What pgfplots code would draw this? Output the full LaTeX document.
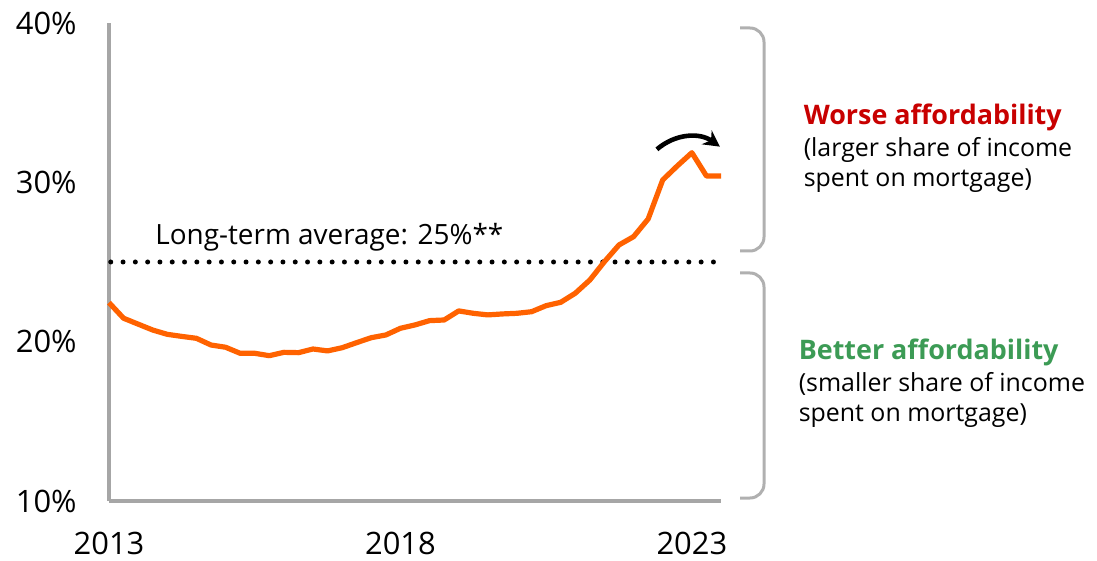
\documentclass[border=0pt]{standalone}
\usepackage{fontspec}
\setmainfont{Open Sans}
\usepackage{pgfplots}
\pgfplotsset{compat=1.18}
\usetikzlibrary{arrows.meta}
\definecolor{ingorange}{HTML}{FF6200}
\definecolor{axisgray}{HTML}{A6A6A6}
\definecolor{brgray}{HTML}{B0B0B0}
\definecolor{ingred}{HTML}{C80000}
\definecolor{inggreen}{HTML}{3C9B55}
\begin{document}
\begin{tikzpicture}
\begin{axis}[
  scale only axis, width=306bp, height=239bp,
  xmin=2013, xmax=2023.5, ymin=10, ymax=40,
  axis lines*=left,
  axis line style={axisgray, line width=1.8bp},
  xtick={2013,2018,2023}, ytick={10,20,30,40},
  major tick length=0pt,
  /pgf/number format/assume math mode=true,
  /pgf/number format/1000 sep={},
  yticklabel={\pgfmathprintnumber{\tick}\%},
  ticklabel style={font=\fontsize{15.5}{18}\selectfont},
  yticklabel style={anchor=east, inner sep=0pt, xshift=-16bp},
  xticklabel style={anchor=north, inner sep=0pt, yshift=-15.5bp},
  clip=false,
]
\coordinate (O) at (rel axis cs:0,0);
\addplot[black, line width=2.5bp, dash pattern=on 0pt off 6.15bp, line cap=round] coordinates {(2013.03,25) (2023.4,25)};
\addplot[ingorange, line width=2.6bp, line join=round] coordinates {
(2013.00,22.45) (2013.25,21.47) (2013.50,21.10) (2013.75,20.73)
(2014.00,20.46) (2014.25,20.33) (2014.50,20.21) (2014.75,19.79)
(2015.00,19.65) (2015.25,19.27) (2015.50,19.27) (2015.75,19.12)
(2016.00,19.33) (2016.25,19.31) (2016.50,19.54) (2016.75,19.42)
(2017.00,19.62) (2017.25,19.94) (2017.50,20.25) (2017.75,20.42)
(2018.00,20.84) (2018.25,21.05) (2018.50,21.32) (2018.75,21.36)
(2019.00,21.93) (2019.25,21.78) (2019.50,21.68) (2019.75,21.74)
(2020.00,21.78) (2020.25,21.88) (2020.50,22.26) (2020.75,22.47)
(2021.00,23.04) (2021.25,23.87) (2021.50,25.02) (2021.75,26.07)
(2022.00,26.59) (2022.25,27.70) (2022.50,30.15) (2022.75,31.03)
(2023.00,31.86) (2023.25,30.40) (2023.50,30.40)
};
\draw[black, line width=2.3bp, -{Stealth[length=8bp, width=8.5bp]}] (axis cs:2022.40,32.07) to[bend left=38] (axis cs:2023.48,32.24);
\end{axis}
\path (O) ++(-54.5bp,-30bp) rectangle ++(548.5bp,280.5bp);
\node[anchor=base west, inner sep=0pt, font=\fontsize{14}{16}\selectfont] at ([shift={(23bp,128bp)}]O) {Long-term average: 25\%**};
\draw[brgray, line width=1.5bp, rounded corners=7bp] ([shift={(315.5bp,236.5bp)}]O) -- ++(12bp,0) -- ++(0,-111.5bp) -- ++(-12bp,0);
\draw[brgray, line width=1.5bp, rounded corners=7bp] ([shift={(315.5bp,114bp)}]O) -- ++(12bp,0) -- ++(0,-112.5bp) -- ++(-12bp,0);
\node[anchor=base west, inner sep=0pt, text=ingred, font=\fontsize{13.5}{16}\selectfont\bfseries] at ([shift={(347.2bp,188bp)}]O) {Worse affordability};
\node[anchor=base west, inner sep=0pt, font=\fontsize{12.5}{15}\selectfont] at ([shift={(347.2bp,172.2bp)}]O) {(larger share of income};
\node[anchor=base west, inner sep=0pt, font=\fontsize{12.5}{15}\selectfont] at ([shift={(347.2bp,157.2bp)}]O) {spent on mortgage)};
\node[anchor=base west, inner sep=0pt, text=inggreen, font=\fontsize{13.5}{16}\selectfont\bfseries] at ([shift={(344.7bp,70.5bp)}]O) {Better affordability};
\node[anchor=base west, inner sep=0pt, font=\fontsize{12.5}{15}\selectfont] at ([shift={(344.7bp,54.5bp)}]O) {(smaller share of income};
\node[anchor=base west, inner sep=0pt, font=\fontsize{12.5}{15}\selectfont] at ([shift={(344.7bp,39.7bp)}]O) {spent on mortgage)};
\end{tikzpicture}
\end{document}
